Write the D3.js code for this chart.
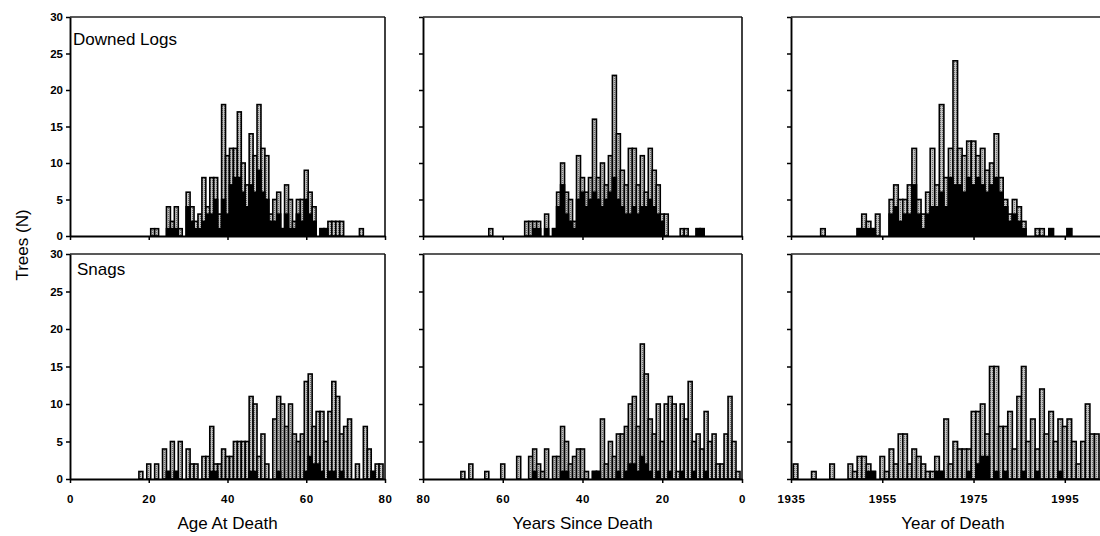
<!DOCTYPE html>
<html>
<head>
<meta charset="utf-8">
<script src="https://cdn.jsdelivr.net/npm/d3@7"></script>
<style>
  body { margin: 0; background: #fff; }
  svg { display: block; }
</style>
</head>
<body>
<div id="chart"></div>
<script>
// each entry: [bin, all trees, dark (lower) part]
const logsAge = [
  [21,1,0],[22,1,0],[25,4,1],[26,2,1],[27,4,1],[28,1,0],[30,6,4],[31,4,2],[32,2,1],[33,3,1],
  [34,8,2],[35,4,3],[36,8,3],[37,8,5],[38,3,1],[39,18,5],[40,11,3],[41,12,7],[42,12,8],[43,17,8],
  [44,10,6],[45,7,4],[46,14,7],[47,11,6],[48,18,9],[49,12,6],[50,11,5],[51,3,2],[52,5,2],[53,6,3],
  [54,1,1],[55,7,3],[56,5,1],[57,2,1],[58,5,3],[59,5,2],[60,9,5],[61,6,3],[62,4,2],[64,1,1],
  [65,1,1],[66,2,0],[67,2,0],[68,2,0],[69,2,0],[74,1,0]
];
const logsSince = [
  [63,1,0],[54,2,0],[53,2,0],[52,2,1],[51,2,1],[49,3,1],[47,1,1],[46,6,4],[45,10,7],[44,6,3],
  [43,5,2],[42,2,1],[41,11,5],[40,8,6],[39,6,4],[38,8,5],[37,16,6],[36,8,5],[35,10,4],[34,7,5],
  [33,11,6],[32,22,8],[31,14,5],[30,9,4],[29,7,3],[28,12,3],[27,12,4],[26,7,3],[25,11,4],[24,6,4],
  [23,12,5],[22,9,4],[21,7,3],[20,3,2],[19,3,0],[15,1,0],[14,1,0],[11,1,1],[10,1,1]
];
const logsYear = [
  [1942,1,0],[1950,1,1],[1951,3,1],[1952,2,1],[1953,1,1],[1954,3,0],[1957,5,3],[1958,7,4],[1959,5,2],[1960,5,3],
  [1961,7,3],[1962,12,7],[1963,5,3],[1964,3,1],[1965,6,3],[1966,12,4],[1967,7,4],[1968,18,6],[1969,8,4],[1970,12,8],
  [1971,24,7],[1972,12,7],[1973,11,6],[1974,13,8],[1975,13,7],[1976,11,8],[1977,12,7],[1978,9,6],[1979,10,7],[1980,14,8],
  [1981,8,6],[1982,5,4],[1983,3,2],[1984,5,3],[1985,4,2],[1986,2,1],[1989,1,0],[1990,1,0],[1992,1,1],[1996,1,1]
];
const snagsAge = [
  [18,1,0],[20,2,0],[22,2,0],[24,4,0],[25,1,1],[26,5,0],[27,1,1],[28,5,0],[30,4,0],[31,2,0],
  [32,2,0],[34,3,0],[35,3,0],[36,7,1],[37,2,1],[38,2,0],[39,4,0],[40,3,0],[41,3,0],[42,5,0],
  [43,5,0],[44,5,0],[45,5,0],[46,11,1],[47,10,1],[48,3,0],[49,6,0],[50,2,0],[52,8,0],[53,11,1],
  [54,10,0],[55,7,0],[56,10,0],[57,6,0],[58,5,0],[59,6,0],[60,13,1],[61,14,3],[62,7,2],[63,9,2],
  [64,9,1],[65,5,0],[66,9,1],[67,13,1],[68,11,0],[69,6,1],[70,7,0],[71,8,0],[73,2,0],[75,7,0],
  [76,4,0],[77,1,1],[78,2,0],[79,2,0]
];
const snagsSince = [
  [70,1,0],[68,2,0],[64,1,0],[60,2,0],[56,3,0],[53,3,0],[52,4,1],[51,2,0],[50,1,0],[49,4,0],
  [47,3,0],[46,3,0],[45,7,1],[44,5,1],[43,2,0],[42,3,0],[41,4,0],[40,4,0],[39,1,0],[37,1,1],
  [36,1,1],[35,8,0],[34,2,0],[33,5,0],[32,3,0],[31,6,1],[30,6,0],[29,7,1],[28,10,2],[27,11,2],
  [26,7,1],[25,18,3],[24,14,2],[23,8,1],[22,6,0],[21,10,1],[20,5,0],[19,10,0],[18,11,1],[17,10,0],
  [16,1,0],[15,10,1],[14,8,0],[13,13,0],[12,5,1],[11,6,0],[10,4,0],[9,9,1],[8,5,0],[7,6,0],
  [6,2,0],[5,2,0],[4,6,0],[3,11,0],[2,5,0],[1,1,0]
];
const snagsYear = [
  [1936,2,0],[1940,1,0],[1944,2,0],[1948,2,0],[1949,1,0],[1950,3,0],[1951,3,0],[1952,2,1],[1953,1,1],[1955,3,0],
  [1956,1,0],[1957,4,0],[1958,2,0],[1959,6,0],[1960,6,0],[1961,2,0],[1962,4,0],[1963,3,0],[1964,2,0],[1965,1,0],
  [1966,1,0],[1967,3,1],[1968,1,1],[1969,8,0],[1970,2,0],[1971,5,0],[1972,4,0],[1973,4,0],[1974,4,1],[1975,9,0],
  [1976,9,2],[1977,10,3],[1978,6,3],[1979,15,0],[1980,15,1],[1981,7,0],[1982,7,1],[1983,9,0],[1984,4,0],[1985,11,0],
  [1986,15,1],[1987,5,0],[1988,8,0],[1989,4,1],[1990,12,0],[1991,6,0],[1992,9,0],[1993,5,0],[1994,8,1],[1995,7,0],
  [1996,8,0],[1997,5,0],[1998,2,0],[1999,5,0],[2000,10,0],[2001,6,0],[2002,6,0]
];

const ageTicks = [0, 20, 40, 60, 80];
const sinceTicks = [80, 60, 40, 20, 0];
const yearTicks = [1935, 1955, 1975, 1995];
const countTicks = [0, 5, 10, 15, 20, 25, 30];

const W = 1100, H = 536;
const FONT = "'Liberation Sans', Arial, sans-serif";

const cols = [
  {x0: 70,  x1: 385,  domain: [0, 80],      ticks: ageTicks,   title: "Age At Death"},
  {x0: 423, x1: 742,  domain: [80, 0],      ticks: sinceTicks, title: "Years Since Death"},
  {x0: 791, x1: 1115, domain: [1935, 2006], ticks: yearTicks,  title: "Year of Death"}
];
const rows = [
  {y0: 236, y1: 17,  label: "Downed Logs", lx: 73, ly: 45,  data: [logsAge, logsSince, logsYear]},
  {y0: 479, y1: 254, label: "Snags",       lx: 77, ly: 275, data: [snagsAge, snagsSince, snagsYear]}
];

const svg = d3.select("#chart").append("svg")
  .attr("width", W).attr("height", H)
  .style("font-family", FONT);

// stippled grey like the printed figure
const pat = svg.append("defs").append("pattern")
  .attr("id", "stipple").attr("patternUnits", "userSpaceOnUse")
  .attr("width", 2).attr("height", 2);
pat.append("rect").attr("width", 2).attr("height", 2).attr("fill", "#c4c4c4");
pat.append("rect").attr("width", 1).attr("height", 1).attr("fill", "#6e6e6e");

rows.forEach((row, ri) => {
  const y = d3.scaleLinear().domain([0, 30]).range([row.y0, row.y1]);
  const bottomRow = ri === rows.length - 1;

  cols.forEach((col, ci) => {
    const x = d3.scaleLinear().domain(col.domain).range([col.x0, col.x1]);
    const data = row.data[ci];
    const g = svg.append("g");

    const bx = d => Math.min(x(d[0] - 0.5), x(d[0] + 0.5));
    const bw = d => Math.abs(x(d[0] + 0.5) - x(d[0] - 0.5));

    g.append("g").selectAll("rect").data(data).join("rect")
      .attr("x", bx).attr("width", bw)
      .attr("y", d => y(d[1])).attr("height", d => y(0) - y(d[1]))
      .attr("fill", "url(#stipple)")
      .attr("stroke", "#000").attr("stroke-width", 1.6);

    g.append("g").selectAll("rect").data(data.filter(d => d[2] > 0)).join("rect")
      .attr("x", bx).attr("width", bw)
      .attr("y", d => y(d[2])).attr("height", d => y(0) - y(d[2]))
      .attr("fill", "#000")
      .attr("stroke", "#000").attr("stroke-width", 1.6);

    // frame: top and right edges
    g.append("line")
      .attr("x1", col.x0).attr("x2", col.x1).attr("y1", y(30)).attr("y2", y(30))
      .attr("stroke", "#222").attr("stroke-width", 1.3);
    g.append("line")
      .attr("x1", col.x1).attr("x2", col.x1).attr("y1", y(30)).attr("y2", y(0))
      .attr("stroke", "#111").attr("stroke-width", 1.6);

    const yAxis = d3.axisLeft(y).tickValues(countTicks).tickSize(4).tickSizeOuter(0)
      .tickPadding(3).tickFormat(ci === 0 ? d3.format("d") : "");
    const ay = g.append("g").attr("transform", `translate(${col.x0},0)`).call(yAxis);

    const xAxis = d3.axisBottom(x).tickValues(col.ticks).tickSize(4).tickSizeOuter(0)
      .tickPadding(12).tickFormat(bottomRow ? d3.format("d") : "");
    const ax = g.append("g").attr("transform", `translate(0,${y(0)})`).call(xAxis);

    [ay, ax].forEach(a => {
      a.select(".domain").attr("stroke", "#000").attr("stroke-width", 1.9);
      a.selectAll(".tick line").attr("stroke", "#000").attr("stroke-width", 1.5);
      a.selectAll(".tick text")
        .attr("fill", "#000")
        .style("font-family", FONT)
        .style("font-weight", "bold")
        .style("font-size", "11.5px");
    });
    ax.selectAll(".tick text").style("letter-spacing", "0.6px");

    if (bottomRow) {
      svg.append("text")
        .attr("x", (col.x0 + col.x1) / 2).attr("y", 529)
        .attr("text-anchor", "middle")
        .style("font-size", "17px")
        .text(col.title);
    }
  });

  svg.append("text")
    .attr("x", row.lx).attr("y", row.ly)
    .style("font-size", "17px")
    .text(row.label);
});

svg.append("text")
  .attr("transform", "translate(28,245) rotate(-90)")
  .attr("text-anchor", "middle")
  .style("font-size", "17px")
  .text("Trees (N)");
</script>
</body>
</html>
